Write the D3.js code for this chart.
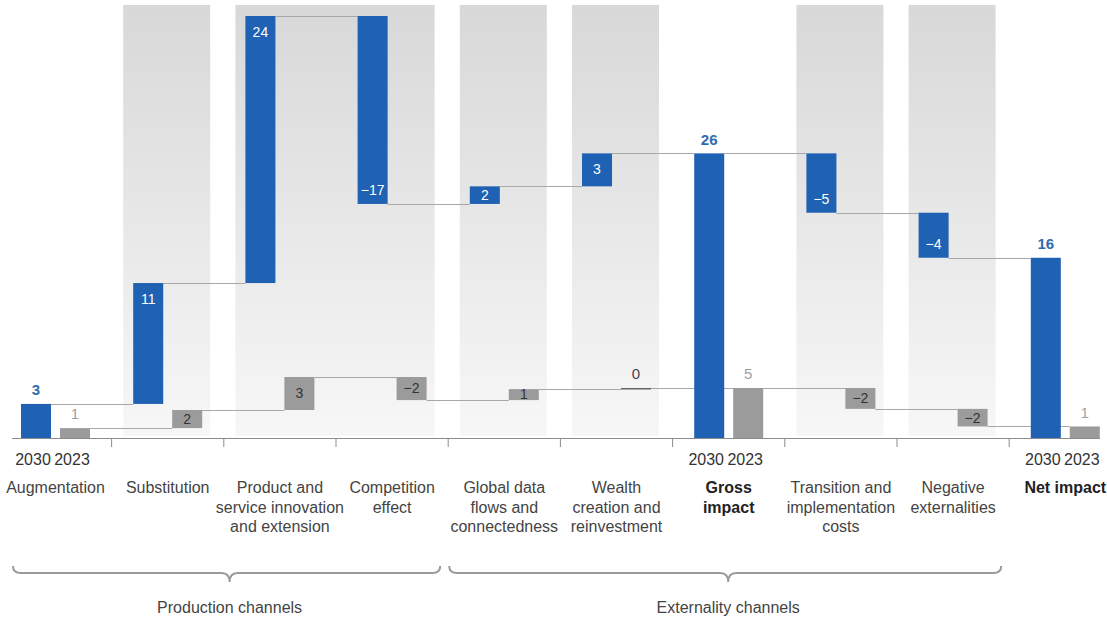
<!DOCTYPE html>
<html>
<head>
<meta charset="utf-8">
<script src="https://cdn.jsdelivr.net/npm/d3@7"></script>
<style>
  body { margin: 0; background: #fff; }
  svg { font-family: "Liberation Sans", Arial, sans-serif; }
</style>
</head>
<body>
<svg id="chart" width="1107" height="621"></svg>
<script>
const categories = ["Augmentation", "Substitution", "Product and service innovation and extension",
  "Competition effect", "Global data flows and connectedness", "Wealth creation and reinvestment",
  "Gross impact", "Transition and implementation costs", "Negative externalities", "Net impact"];
const labelLines = [["Augmentation"], ["Substitution"], ["Product and", "service innovation", "and extension"],
  ["Competition", "effect"], ["Global data", "flows and", "connectedness"], ["Wealth", "creation and", "reinvestment"],
  ["Gross", "impact"], ["Transition and", "implementation", "costs"], ["Negative", "externalities"], ["Net impact"]];
const kinds = ["start", "delta", "delta", "delta", "delta", "delta", "total", "delta", "delta", "total"];
const values2030 = [3.1, 11.0, 24.3, -17.1, 1.6, 3.0, null, -5.4, -4.1, null];
const values2023 = [0.9, 1.65, 3.0, -2.1, 1.0, 0.1, null, -1.9, -1.6, null];
const years = ["2030", "2023"];
const yearLabelled = ["Augmentation", "Gross impact", "Net impact"];
const shadedGroups = [["Substitution"], ["Product and service innovation and extension", "Competition effect"],
  ["Global data flows and connectedness"], ["Wealth creation and reinvestment"],
  ["Transition and implementation costs"], ["Negative externalities"]];
const braces = [
  { label: "Production channels", from: "Augmentation", to: "Competition effect" },
  { label: "Externality channels", from: "Global data flows and connectedness", to: "Negative externalities" }
];

const svg = d3.select("#chart");
const baseY = 438;

const x = d3.scaleBand().domain(categories).range([21, 21 + 112.2 * 10]).paddingInner(0).align(0);
const groupW = 69;
const gapMid = c => x(c) - (x.step() - groupW) / 2;
const sub = d3.scaleBand().domain(years).range([0, groupW]).paddingInner(0.23);
const y = d3.scaleLinear().domain([0, 38.4]).range([baseY, 16]);

// build waterfall steps for a series
function steps(values) {
  let run = 0;
  return values.map((v, i) => {
    const k = kinds[i];
    let s, e;
    if (k === "start") { s = 0; e = v; run = v; }
    else if (k === "total") { s = 0; e = run; }
    else { s = run; e = run + v; run = e; }
    return { cat: categories[i], kind: k, start: s, end: e, value: k === "total" ? run : v };
  });
}
const series = [
  { year: "2030", data: steps(values2030), fill: "#1f61b2" },
  { year: "2023", data: steps(values2023), fill: "#9b9b9b" }
];

const fmt = v => { const r = Math.round(v); return r < 0 ? "\u2212" + Math.abs(r) : String(r); };

// shaded panels
const defs = svg.append("defs");
const grad = defs.append("linearGradient").attr("id", "panelGrad")
  .attr("gradientUnits", "userSpaceOnUse").attr("x1", 0).attr("x2", 0).attr("y1", 5).attr("y2", 436);
grad.append("stop").attr("offset", 0).attr("stop-color", "#d8d8d8");
grad.append("stop").attr("offset", 1).attr("stop-color", "#f7f7f7");

svg.append("g").selectAll("rect").data(shadedGroups).join("rect")
  .attr("x", g => x(g[0]) - 10)
  .attr("width", g => x(g[g.length - 1]) + groupW + 8 - (x(g[0]) - 10))
  .attr("y", 5).attr("height", 436 - 5)
  .attr("fill", "url(#panelGrad)");

// connectors
const conn = svg.append("g").attr("stroke", "#a8a8a8").attr("stroke-width", 1);
series.forEach(s => {
  const lines = s.data.slice(0, -1).map((d, i) => ({
    x1: x(d.cat) + sub(s.year) + sub.bandwidth(),
    x2: x(s.data[i + 1].cat) + sub(s.year),
    y: y(d.end)
  }));
  conn.selectAll(null).data(lines).join("line")
    .attr("x1", d => d.x1).attr("x2", d => d.x2)
    .attr("y1", d => Math.round(d.y) + 0.5).attr("y2", d => Math.round(d.y) + 0.5);
});

// axis line and ticks
const axis = svg.append("g").attr("stroke", "#8c8c8c");
axis.append("line").attr("x1", 12).attr("x2", 1100).attr("y1", baseY + 0.5).attr("y2", baseY + 0.5);
axis.selectAll(null).data(categories.slice(1)).join("line")
  .attr("x1", gapMid).attr("x2", gapMid)
  .attr("y1", baseY).attr("y2", baseY + 9);

// bars
series.forEach(s => {
  const g = svg.append("g");
  g.selectAll("rect").data(s.data).join("rect")
    .attr("x", d => x(d.cat) + sub(s.year))
    .attr("width", sub.bandwidth())
    .attr("y", d => Math.min(y(d.start), y(d.end)))
    .attr("height", d => Math.max(1.5, Math.abs(y(d.start) - y(d.end))))
    .attr("fill", d => (s.year === "2023" && Math.abs(y(d.start) - y(d.end)) < 3) ? "#666" : s.fill);

  g.selectAll("text").data(s.data).join("text")
    .attr("x", d => x(d.cat) + sub(s.year) + sub.bandwidth() / 2)
    .attr("text-anchor", "middle")
    .attr("dy", "0.35em")
    .attr("font-size", 14)
    .each(function (d) {
      const top = Math.min(y(d.start), y(d.end));
      const bot = Math.max(y(d.start), y(d.end));
      const h = bot - top;
      const t = d3.select(this).text(fmt(d.value));
      if (d.kind !== "delta" || h < 6) {
        t.attr("y", top - 14);
        if (s.year === "2030") t.attr("fill", "#2f6cb0").attr("font-weight", "bold").attr("font-size", 15);
        else t.attr("fill", d.kind === "delta" ? "#444" : "#a0a0a0").attr("font-size", 15);
      } else if (s.year === "2030") {
        t.attr("fill", "#fff");
        if (h < 25) t.attr("y", (top + bot) / 2);
        else if (d.value > 0) t.attr("y", top + 16);
        else t.attr("y", bot - 14);
      } else {
        t.attr("fill", "#333").attr("y", (top + bot) / 2);
      }
    });
});

// year labels under total bars
const yl = svg.append("g").attr("font-size", 16).attr("fill", "#333").attr("text-anchor", "middle");
yearLabelled.forEach(c => {
  years.forEach(yr => {
    yl.append("text").attr("x", x(c) + sub(yr) + sub.bandwidth() / 2 - 3).attr("y", 465).text(yr);
  });
});

// category labels
const cl = svg.append("g").attr("font-size", 16).attr("text-anchor", "middle");
categories.forEach((c, i) => {
  const t = cl.append("text").attr("x", x(c) + groupW / 2).attr("y", 493)
    .attr("fill", kinds[i] === "total" ? "#222" : "#444")
    .attr("font-weight", kinds[i] === "total" ? "bold" : null);
  labelLines[i].forEach((ln, j) => {
    t.append("tspan").attr("x", x(c) + groupW / 2).attr("dy", j === 0 ? 0 : 19.5).text(ln);
  });
});

// braces
const bg = svg.append("g");
braces.forEach(b => {
  const i0 = categories.indexOf(b.from), i1 = categories.indexOf(b.to);
  const x0 = (i0 === 0 ? 12 : gapMid(b.from)) + 1;
  const x1 = gapMid(categories[i1 + 1]) - 8;
  const xm = (x0 + x1) / 2 + 3;
  const yTop = 566, yMid = 573, yTip = 582;
  const p = d3.path();
  p.moveTo(x0, yTop);
  p.quadraticCurveTo(x0, yMid, x0 + 8, yMid);
  p.lineTo(xm - 8, yMid);
  p.quadraticCurveTo(xm, yMid, xm, yTip);
  p.quadraticCurveTo(xm, yMid, xm + 8, yMid);
  p.lineTo(x1 - 8, yMid);
  p.quadraticCurveTo(x1, yMid, x1, yTop);
  bg.append("path").attr("d", p.toString()).attr("fill", "none")
    .attr("stroke", "#9a9a9a").attr("stroke-width", 2);
  bg.append("text").attr("x", xm).attr("y", 613).attr("text-anchor", "middle")
    .attr("font-size", 16).attr("fill", "#444").text(b.label);
});
</script>
</body>
</html>
